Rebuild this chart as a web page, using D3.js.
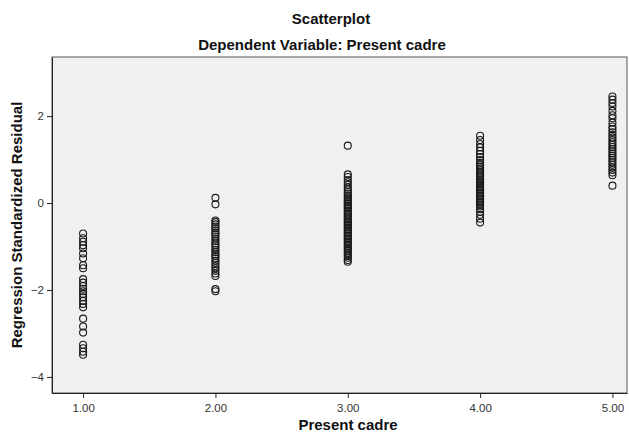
<!doctype html>
<html lang="en">
<head>
  <meta charset="utf-8" />
  <title>Scatterplot</title>
  <script src="https://d3js.org/d3.v7.min.js"></script>
  <style>
    body { margin: 0; background: #fff; }
    text { font-family: "Liberation Sans", Arial, sans-serif; }
  </style>
</head>
<body>
  <div id="chart"></div>
  <script>
    const cadreLevels = [1, 2, 3, 4, 5];
    const xTickLabels = ["1.00", "2.00", "3.00", "4.00", "5.00"];
    const yTicks = [-4, -2, 0, 2];

    const residuals1 = [-0.70, -0.81, -0.89, -0.97, -1.04, -1.16, -1.27, -1.43, -1.50,
      -1.75, -1.83, -1.91, -1.97, -2.03, -2.09, -2.17, -2.25, -2.32, -2.40,
      -2.66, -2.84, -2.98, -3.26, -3.34, -3.42, -3.49];
    const residuals2 = [0.12, -0.03, -0.40, -0.44, -0.49, -0.54, -0.58, -0.63, -0.68,
      -0.72, -0.77, -0.82, -0.88, -0.93, -0.97, -1.02, -1.08, -1.13, -1.18, -1.22,
      -1.27, -1.33, -1.38, -1.45, -1.50, -1.56, -1.62, -1.68, -1.98, -2.03];
    const residuals3 = [1.32, 0.66, 0.60, 0.53, 0.48, 0.42, 0.36, 0.31, 0.26, 0.22,
      0.17, 0.13, 0.09, 0.05, 0.02, -0.02, -0.06, -0.09, -0.13, -0.17, -0.20,
      -0.24, -0.27, -0.31, -0.35, -0.38, -0.42, -0.45, -0.49, -0.52, -0.56, -0.60,
      -0.63, -0.67, -0.70, -0.74, -0.77, -0.81, -0.84, -0.88, -0.92, -0.95, -0.99,
      -1.03, -1.06, -1.10, -1.14, -1.18, -1.22, -1.26, -1.31, -1.35];
    const residuals4 = [1.55, 1.45, 1.36, 1.28, 1.20, 1.13, 1.06, 0.99, 0.93, 0.88,
      0.84, 0.80, 0.76, 0.72, 0.68, 0.64, 0.61, 0.57, 0.53, 0.50, 0.46, 0.43,
      0.39, 0.36, 0.32, 0.29, 0.25, 0.22, 0.18, 0.15, 0.11, 0.08, 0.04, 0.01,
      -0.03, -0.08, -0.14, -0.20, -0.27, -0.36, -0.45];
    const residuals5 = [2.45, 2.38, 2.30, 2.22, 2.12, 2.02, 1.95, 1.85, 1.76, 1.70,
      1.63, 1.57, 1.51, 1.45, 1.40, 1.34, 1.29, 1.24, 1.19, 1.14, 1.09, 1.04,
      0.99, 0.94, 0.88, 0.82, 0.76, 0.70, 0.64, 0.40];

    const residualsByLevel = [residuals1, residuals2, residuals3, residuals4, residuals5];
    const points = [];
    cadreLevels.forEach((lvl, i) => {
      residualsByLevel[i].forEach(r => points.push({ x: lvl, y: r }));
    });

    const width = 629, height = 434;
    const plot = { left: 52, right: 627, top: 57, bottom: 393 };

    const svg = d3.select("#chart").append("svg")
      .attr("width", width)
      .attr("height", height);

    const x = d3.scaleLinear().domain([0.765, 5.11]).range([plot.left, plot.right]);
    const y = d3.scaleLinear().domain([-4.37, 3.36]).range([plot.bottom, plot.top]);

    // plot background + frame
    svg.append("rect")
      .attr("x", plot.left).attr("y", plot.top)
      .attr("width", plot.right - plot.left).attr("height", plot.bottom - plot.top)
      .attr("fill", "#f0f0f0")
      .attr("stroke", "#555")
      .attr("stroke-width", 1);

    // axes
    const xAxis = d3.axisBottom(x)
      .tickValues(cadreLevels)
      .tickFormat((d, i) => xTickLabels[i])
      .tickSizeInner(5).tickSizeOuter(0).tickPadding(6);
    const yAxis = d3.axisLeft(y)
      .tickValues(yTicks)
      .tickSizeInner(5).tickSizeOuter(0).tickPadding(3);

    const gx = svg.append("g").attr("transform", `translate(0,${plot.bottom})`).call(xAxis);
    const gy = svg.append("g").attr("transform", `translate(${plot.left},0)`).call(yAxis);
    [gx, gy].forEach(g => {
      g.select(".domain").attr("stroke", "#222");
      g.selectAll(".tick line").attr("stroke", "#222");
      g.selectAll(".tick text")
        .attr("fill", "#333")
        .style("font-size", "11.5px")
        .style("font-family", "'Liberation Sans', Arial, sans-serif");
    });

    // points
    svg.append("g")
      .selectAll("circle")
      .data(points)
      .join("circle")
      .attr("cx", d => x(d.x))
      .attr("cy", d => y(d.y))
      .attr("r", 3.5)
      .attr("fill", "none")
      .attr("stroke", "#1a1a1a")
      .attr("stroke-width", 1.1);

    // titles
    svg.append("text")
      .attr("x", 331).attr("y", 24)
      .attr("text-anchor", "middle")
      .style("font-size", "15px").style("font-weight", "bold")
      .attr("fill", "#111")
      .text("Scatterplot");
    svg.append("text")
      .attr("x", 322).attr("y", 50)
      .attr("text-anchor", "middle")
      .style("font-size", "15px").style("font-weight", "bold")
      .attr("fill", "#111")
      .text("Dependent Variable: Present cadre");

    svg.append("text")
      .attr("x", 348).attr("y", 430)
      .attr("text-anchor", "middle")
      .style("font-size", "15px").style("font-weight", "bold")
      .attr("fill", "#111")
      .text("Present cadre");
    svg.append("text")
      .attr("transform", `translate(22,${(plot.top + plot.bottom) / 2}) rotate(-90)`)
      .attr("text-anchor", "middle")
      .style("font-size", "15px").style("font-weight", "bold")
      .attr("fill", "#111")
      .text("Regression Standardized Residual");
  </script>
</body>
</html>
